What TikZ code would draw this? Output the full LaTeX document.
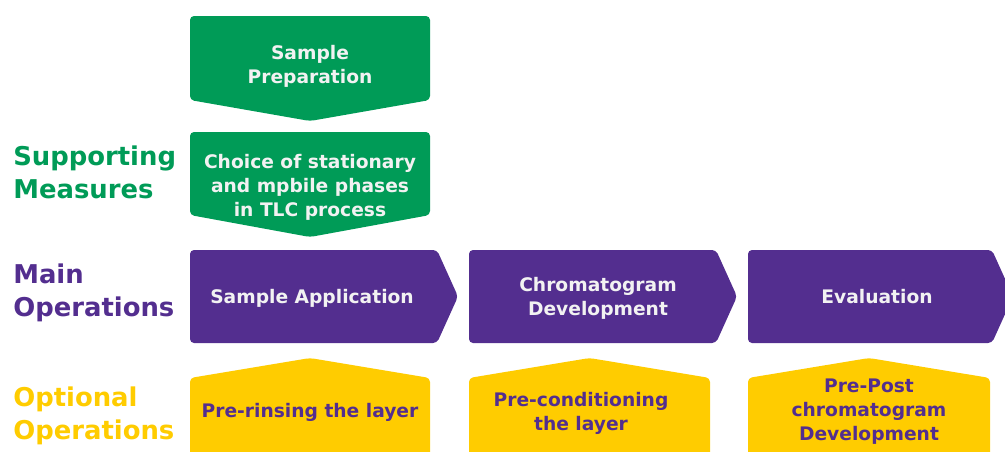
\documentclass[tikz,border=0pt]{standalone}
\usepackage{fontspec}
\setmainfont{DejaVu Sans}
\definecolor{tgreen}{HTML}{009B57}
\definecolor{tpurple}{HTML}{532E8F}
\definecolor{tyellow}{HTML}{FFCC00}
\definecolor{tlight}{HTML}{F2F2F2}
\begin{document}
\begin{tikzpicture}[x=0.75pt,y=-0.75pt,
  shp/.style={rounded corners=3pt},
  boxtext/.style={align=center,inner sep=0pt,font=\bfseries\fontsize{14}{18}\selectfont},
  lbl/.style={anchor=west,align=left,inner sep=0pt,font=\bfseries\fontsize{19.4}{24.75}\selectfont}]
\clip (0,0) rectangle (1005,451);
% green
\fill[tgreen,shp] (190,16) -- (430,16) -- (430,100) -- (310,121) -- (190,100) -- cycle;
\fill[tgreen,shp] (190,132) -- (430,132) -- (430,215) -- (310,237) -- (190,215) -- cycle;
% purple
\fill[tpurple,shp] (190,250) -- (437,250) -- (458,296.5) -- (437,343) -- (190,343) -- cycle;
\fill[tpurple,shp] (469,250) -- (716,250) -- (737,296.5) -- (716,343) -- (469,343) -- cycle;
\fill[tpurple,shp] (748,250) -- (992,250) -- (1013,296.5) -- (992,343) -- (748,343) -- cycle;
% yellow
\fill[tyellow,shp] (190,470) -- (190,378) -- (310,358) -- (430,378) -- (430,470) -- cycle;
\fill[tyellow,shp] (469,470) -- (469,378) -- (589.5,358) -- (710,378) -- (710,470) -- cycle;
\fill[tyellow,shp] (748,470) -- (748,378) -- (869,358) -- (990,378) -- (990,470) -- cycle;
% labels
\node[lbl,text=tgreen] (sup) at (13,172) {Supporting\\Measures};
\node[lbl,text=tpurple] (mainop) at (13,293) {Main\\Operations};
\node[lbl,text=tyellow] (optop) at (13,416) {Optional\\Operations};
% box texts
\node[boxtext,text=tlight] (prep) at (310,66) {Sample\\Preparation};
\node[boxtext,text=tlight] (choice) at (310,187) {Choice of stationary\\and mpbile phases\\in TLC process};
\node[boxtext,text=tlight] (app) at (312,298) {Sample Application};
\node[boxtext,text=tlight] (dev) at (598,298) {Chromatogram\\Development};
\node[boxtext,text=tlight] (eval) at (877,297) {Evaluation};
\node[boxtext,text=tpurple] (rinse) at (310,412) {Pre-rinsing the layer};
\node[boxtext,text=tpurple] (cond) at (581,413) {Pre-conditioning\\the layer};
\node[boxtext,text=tpurple] (post) at (869,412) {Pre-Post\\chromatogram\\Development};
\end{tikzpicture}
\end{document}
